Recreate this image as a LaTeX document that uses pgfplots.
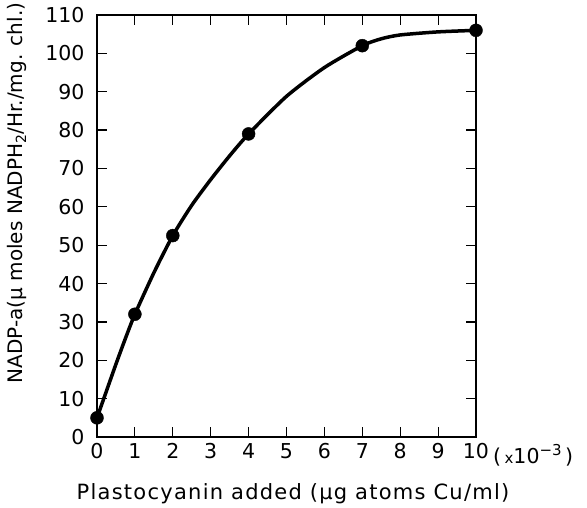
\documentclass[border=0pt]{standalone}
\usepackage{pgfplots}
\pgfplotsset{compat=1.18}
\usepackage{fontspec}
\setmainfont{DejaVu Sans}
\begin{document}
\begin{tikzpicture}
\useasboundingbox (-97pt,-71pt) rectangle (490pt,437pt);
\begin{axis}[
  at={(0pt,0pt)}, anchor=south west,
  scale only axis, width=379pt, height=422pt,
  xmin=0, xmax=10, ymin=0, ymax=110,
  xtick={0,1,...,10}, ytick={0,10,...,110},
  tick align=inside, major tick length=10pt,
  axis line style={line width=1.6pt},
  every tick/.style={line width=1.2pt, black},
  tick label style={font=\fontsize{20.5}{20.5}\selectfont},
  /pgf/number format/assume math mode=true,
  xticklabel style={yshift=-3pt},
  yticklabel style={xshift=-9pt},
  clip=false,
]
\addplot[smooth, tension=0.4, line width=3.5pt, black] coordinates {
(0,5) (0.25,12) (0.5,19) (0.75,25.7) (1,32) (1.5,42.8) (2,52.5) (2.5,60.4) (3,67.1) (3.5,73.3) (4,79) (5,88.8) (6,96.3) (7,102) (7.5,103.8) (8,104.8) (9,105.6) (10,106)
};
\addplot[only marks, mark=*, mark size=6.5pt, black] coordinates {
(0,5) (1,32) (2,52.5) (4,79) (7,102) (10,106)
};
\end{axis}
\node[anchor=base west, inner sep=0pt, font=\fontsize{20.5}{20.5}\selectfont] at (396pt,-27pt) {(\,{\fontsize{15}{15}\selectfont x}10\raisebox{0.42em}{\fontsize{15}{15}\selectfont −3}\,)};
\node[anchor=base, inner sep=0pt, font=\fontsize{21}{21}\selectfont\addfontfeature{LetterSpace=6}] at (196pt,-63pt) {Plastocyanin added (µg atoms Cu/ml)};
\node[rotate=90, anchor=base, inner sep=0pt, font=\fontsize{20}{20}\selectfont] at (-74pt,244pt) {NADP-a(µ moles NADPH\textsubscript{2}/Hr./mg. chl.)};
\end{tikzpicture}
\end{document}
